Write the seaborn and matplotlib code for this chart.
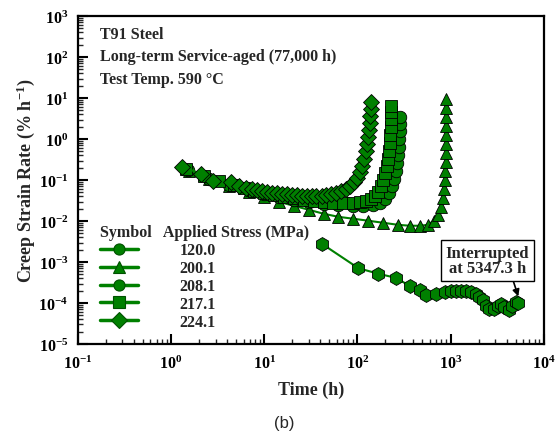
import matplotlib
matplotlib.use('Agg')
import matplotlib.pyplot as plt
import seaborn as sns
import numpy as np
from matplotlib.lines import Line2D
from matplotlib.ticker import LogLocator, FuncFormatter, NullFormatter

# Data (time in h, creep strain rate in %/h)
t_120 = [41.6, 102.5, 167, 262, 365, 467, 550, 701, 863, 1015, 1147, 1298, 1468,
         1660, 1876, 2040, 2213, 2400, 2606, 2950, 3200, 3470, 3770, 4260, 4625, 5020, 5347]
r_120 = [2.79e-3, 7.1e-4, 5.2e-4, 4.1e-4, 2.6e-4, 2.03e-4, 1.6e-4, 1.7e-4, 1.86e-4,
         1.92e-4, 1.92e-4, 1.92e-4, 1.92e-4, 1.86e-4, 1.7e-4, 1.4e-4, 1.16e-4, 8.7e-5,
         7.3e-5, 7.3e-5, 8.7e-5, 9.6e-5, 8.0e-5, 6.6e-5, 8.7e-5, 1.06e-4, 1.0e-4]

t_200 = [1.57, 2.57, 4.2, 6.87, 9.9, 14.3, 20.8, 30, 43.4, 62.7, 90.6, 131, 189, 274,
         367, 470, 571, 662, 731, 787, 827, 847, 869, 869, 891, 891, 891, 891, 891, 891, 891, 891]
r_200 = [0.169, 0.108, 0.073, 0.052, 0.039, 0.0296, 0.0236, 0.0189, 0.0151, 0.0127,
         0.0114, 0.0102, 0.0091, 0.0081, 0.0077, 0.0077, 0.0081, 0.0102, 0.0143, 0.0223,
         0.037, 0.061, 0.102, 0.169, 0.28, 0.46, 0.77, 1.27, 2.11, 3.5, 5.8, 9.6]

t_208 = [1.50, 2.57, 4.2, 6.87, 9.9, 14.3, 20.8, 30, 43.4, 62.7, 90.6, 116, 148, 176,
         199, 220, 237, 248, 261, 267, 274, 281, 281, 288, 288, 288]
r_208 = [0.178, 0.108, 0.077, 0.058, 0.046, 0.039, 0.033, 0.0296, 0.0264, 0.025,
         0.0236, 0.0236, 0.025, 0.028, 0.035, 0.049, 0.073, 0.108, 0.169, 0.264, 0.414,
         0.65, 1.02, 1.59, 2.36, 3.5]

t_217 = [1.43, 2.27, 3.29, 4.75, 6.07, 7.76, 9.9, 12.7, 16.2, 20.8, 26.5, 33.9, 43.4,
         55.4, 70.9, 90.6, 108, 125, 141, 156, 168, 180, 189, 199, 209, 214, 220, 225,
         225, 231, 231, 231, 231]
r_217 = [0.189, 0.127, 0.096, 0.077, 0.065, 0.055, 0.049, 0.044, 0.039, 0.037, 0.033,
         0.031, 0.0296, 0.028, 0.028, 0.028, 0.0296, 0.031, 0.035, 0.041, 0.052, 0.073,
         0.102, 0.151, 0.223, 0.331, 0.52, 0.81, 1.27, 2.0, 3.1, 4.6, 6.5]

t_224 = [1.32, 2.1, 2.8, 4.4, 5.4, 6.4, 7.4, 8.4, 9.4, 10.7, 12.0, 13.6, 15.4, 17.4,
         19.7, 22.3, 25.2, 28.5, 32.2, 36.4, 41.2, 46.6, 52.6, 59.6, 67.3, 76, 84, 93,
         100, 108, 113, 119, 125, 128, 131, 134, 138, 138, 141, 141]
r_224 = [0.21, 0.143, 0.096, 0.090, 0.072, 0.065, 0.061, 0.058, 0.055, 0.052, 0.049,
         0.049, 0.046, 0.046, 0.044, 0.044, 0.041, 0.041, 0.041, 0.041, 0.041, 0.044,
         0.046, 0.049, 0.055, 0.061, 0.072, 0.090, 0.113, 0.158, 0.22, 0.33, 0.52, 0.77,
         1.14, 1.7, 2.5, 3.7, 5.5, 8.2]

stress_labels = ['120.0', '200.1', '208.1', '217.1', '224.1']
legend_markers = ['o', '^', 'o', 's', 'D']
green = '#008000'

sns.set_style('ticks')
plt.rcParams['font.family'] = ['Liberation Serif', 'DejaVu Serif']
plt.rcParams['font.weight'] = 'bold'
plt.rcParams['mathtext.fontset'] = 'custom'
plt.rcParams['mathtext.rm'] = 'Liberation Serif:bold'
plt.rcParams['mathtext.bf'] = 'Liberation Serif:bold'
plt.rcParams['mathtext.default'] = 'bf'

fig, ax = plt.subplots(figsize=(5.57, 4.39), dpi=100)
fig.subplots_adjust(left=0.140, right=0.976, bottom=0.214, top=0.961)

# drawing order: triangles at the back, diamonds on top, then the 120 MPa curve
series = [(t_200, r_200, '^', 9), (t_208, r_208, 'o', 9), (t_217, r_217, 's', 8),
          (t_224, r_224, 'D', 8), (t_120, r_120, 'h', 10)]
for tx, ry, mk, ms in series:
    sns.lineplot(x=tx, y=ry, ax=ax, estimator=None, sort=False, color=green,
                 linewidth=1.5, marker=mk, markersize=ms, markerfacecolor=green,
                 markeredgecolor='black', markeredgewidth=0.6)

ax.set_xscale('log')
ax.set_yscale('log')
ax.set_xlim(0.1, 1e4)
ax.set_ylim(1e-5, 1e3)

fmt = FuncFormatter(lambda v, p: r'$\mathbf{10^{%d}}$' % round(np.log10(v)))
ax.xaxis.set_major_locator(LogLocator(base=10, numticks=10))
ax.yaxis.set_major_locator(LogLocator(base=10, numticks=12))
ax.xaxis.set_minor_locator(LogLocator(base=10, subs=np.arange(2, 10), numticks=20))
ax.yaxis.set_minor_locator(LogLocator(base=10, subs=np.arange(2, 10), numticks=20))
ax.xaxis.set_major_formatter(fmt)
ax.yaxis.set_major_formatter(fmt)
ax.xaxis.set_minor_formatter(NullFormatter())
ax.yaxis.set_minor_formatter(NullFormatter())
ax.tick_params(which='major', direction='in', length=7, width=1.5, labelsize=11.5,
               top=False, right=False, pad=8, colors='black')
ax.tick_params(axis='y', which='major', pad=7)
ax.tick_params(which='minor', direction='in', length=3.5, width=1, top=False, right=False)
for sp in ax.spines.values():
    sp.set_linewidth(1.6)
    sp.set_color('black')

ax.set_xlabel('Time (h)', fontsize=13, fontweight='bold', labelpad=6)
ax.set_ylabel(r'Creep Strain Rate (% h$^{-1}$)', fontsize=13, fontweight='bold', labelpad=1)

ax.text(0.047, 0.947, 'T91 Steel', transform=ax.transAxes, fontsize=11.5, va='center')
ax.text(0.047, 0.877, 'Long-term Service-aged (77,000 h)', transform=ax.transAxes,
        fontsize=11.5, va='center')
ax.text(0.047, 0.809, 'Test Temp. 590 °C', transform=ax.transAxes, fontsize=11.5, va='center')

handles = [Line2D([], [], color=green, linewidth=2.5, marker=m, markersize=8,
                  markerfacecolor=green, markeredgecolor='#005000', markeredgewidth=0.8)
           for m in legend_markers]
leg = ax.legend(handles, stress_labels, title='Symbol   Applied Stress (MPa)',
                loc='upper left', bbox_to_anchor=(0.047, 0.365), frameon=False,
                fontsize=11.5, title_fontsize=11.5, handlelength=2.4, handletextpad=2.6,
                labelspacing=0.12, borderpad=0, borderaxespad=0, alignment='left')

ax.annotate('Interrupted\nat 5347.3 h', xy=(5347, 1.45e-4), xytext=(2500, 1.08e-3),
            ha='center', va='center', fontsize=12, linespacing=0.95,
            bbox=dict(boxstyle='square,pad=0.3', facecolor='white', edgecolor='black', lw=1),
            arrowprops=dict(arrowstyle='-|>', color='black', lw=1.2, relpos=(0.79, 0),
                            shrinkA=0, shrinkB=0, mutation_scale=10))

fig.text(0.51, 0.035, '(b)', fontsize=12, family='Liberation Sans', fontweight='normal',
         ha='center', va='center')

plt.savefig('out.png', dpi=100)
